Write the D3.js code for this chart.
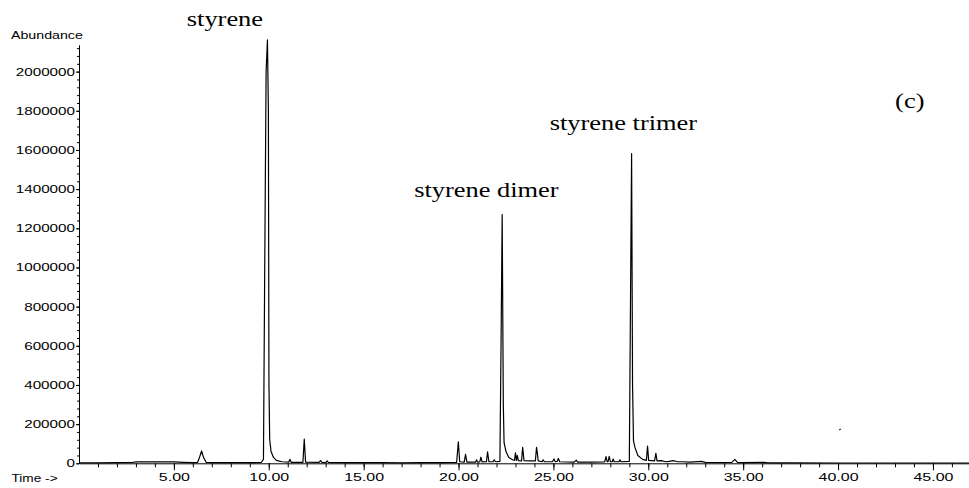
<!DOCTYPE html>
<html>
<head>
<meta charset="utf-8">
<script src="https://cdn.jsdelivr.net/npm/d3@7"></script>
<style>
  body { margin: 0; background: #fff; }
  svg { display: block; }
  .axis path, .axis line { stroke: #000; stroke-width: 1; }
  .axis text { font-family: "Liberation Sans", Arial, sans-serif; fill: #000; }
  .peak-label { font-family: "Liberation Serif", "Times New Roman", serif; fill: #000; }
</style>
</head>
<body>
<svg class="chart"></svg>
<script>
// chromatogram trace: [retention time (min), abundance]
const trace = [
    [0.0, 2000], [1.0, 2500], [2.0, 3000], [2.8, 4000], [3.0, 7000], [3.5, 8000],
    [4.0, 7000], [4.5, 8000], [5.0, 7000], [5.5, 5000], [6.0, 3500], [6.25, 5000],
    [6.35, 30000], [6.46, 63000], [6.57, 28000], [6.7, 5000], [7.0, 3000], [8.0, 3000],
    [9.0, 3500], [9.6, 4000], [9.72, 20000], [9.78, 900000], [9.86, 2000000], [9.93, 2162000],
    [9.98, 1800000], [10.01, 400000], [10.05, 120000], [10.12, 60000], [10.25, 30000],
    [10.4, 15000], [10.7, 8000], [11.05, 6000], [11.12, 20000], [11.18, 5000], [11.8, 5000],
    [11.87, 123000], [11.94, 6000], [12.65, 5000], [12.73, 14000], [12.8, 5000], [13.0, 4000],
    [13.08, 12000], [13.15, 4000], [14.0, 3000], [15.0, 3000], [16.0, 3000], [17.0, 2500],
    [18.0, 3000], [19.0, 3000], [19.9, 5000], [19.99, 110000], [20.06, 8000], [20.3, 6000],
    [20.37, 46000], [20.44, 6000], [20.9, 6000], [20.95, 18000], [21.0, 6000], [21.12, 7000],
    [21.18, 31000], [21.24, 7000], [21.47, 8000], [21.53, 59000], [21.6, 8000], [21.82, 8000],
    [21.88, 18000], [21.95, 8000], [22.18, 10000], [22.24, 600000], [22.3, 1270000],
    [22.36, 300000], [22.4, 105000], [22.5, 60000], [22.65, 30000], [22.85, 18000],
    [22.95, 15000], [23.0, 54000], [23.05, 15000], [23.1, 40000], [23.15, 14000],
    [23.32, 12000], [23.38, 82000], [23.45, 14000], [23.8, 12000], [24.05, 12000],
    [24.11, 82000], [24.15, 55000], [24.2, 12000], [24.4, 8000], [24.46, 18000], [24.52, 8000],
    [24.95, 8000], [25.03, 22000], [25.1, 8000], [25.2, 10000], [25.26, 25000], [25.33, 8000],
    [26.1, 6000], [26.2, 16000], [26.28, 6000], [27.0, 6000], [27.7, 7000], [27.77, 34000],
    [27.83, 8000], [27.88, 8000], [27.94, 36000], [28.0, 8000], [28.1, 8000], [28.15, 22000],
    [28.2, 8000], [28.45, 8000], [28.5, 18000], [28.56, 8000], [29.0, 10000], [29.06, 800000],
    [29.12, 1582000], [29.17, 400000], [29.22, 114000], [29.3, 80000], [29.45, 40000],
    [29.7, 20000], [29.9, 15000], [29.96, 88000], [30.02, 15000], [30.33, 12000],
    [30.4, 51000], [30.46, 12000], [30.7, 14000], [30.9, 8000], [31.1, 10000], [31.3, 14000],
    [31.5, 9000], [31.8, 8000], [32.2, 6000], [32.8, 10000], [33.0, 5000], [33.5, 4000],
    [34.4, 5000], [34.56, 20000], [34.7, 5000], [35.0, 3000], [36.1, 5000], [36.3, 2000],
    [37.5, 2000], [40.0, 1500], [46.9, 1500]
]

// a stray speck on the scan
const specks = [[40.1, 175000]]

// peak annotations (centre time, baseline abundance)
const labelTexts = ["styrene", "styrene dimer", "styrene trimer", "(c)"]
const labelTimes = [7.69, 21.47, 28.69, 43.78]
const labelAbund = [2233000, 1360000, 1702000, 1815000]

// ticks
const yMajorTicks = d3.range(0, 2000001, 200000)
const yMinorTicks = d3.range(0, 2136000, 40000)
const xMajorTicks = [5, 10, 15, 20, 25, 30, 35, 40, 45]
const xMinorTicks = d3.range(1, 47, 1)

const width = 969
const height = 488

const svg = d3.select("svg.chart")
    .attr("width", width)
    .attr("height", height)

const scaleX = d3.scaleLinear()
    .domain([0, 46.9])
    .range([79, 969])

const scaleY = d3.scaleLinear()
    .domain([0, 2136000])
    .range([463.3, 45])

// stretch text horizontally like the scanned original
const stretch = function(sel, factor) {
    sel.each(function() {
        const w = this.getComputedTextLength()
        d3.select(this)
            .attr("textLength", w * factor)
            .attr("lengthAdjust", "spacingAndGlyphs")
    })
}

// y axis
const axisYMinor = svg.append("g")
    .attr("class", "axis")
    .attr("transform", `translate(${scaleX(0)}, 0)`)
    .call(d3.axisLeft(scaleY).tickValues(yMinorTicks).tickSize(2).tickSizeOuter(0).tickFormat(""))

const axisYGroup = svg.append("g")
    .attr("class", "axis")
    .attr("transform", `translate(${scaleX(0)}, 0)`)
    .call(d3.axisLeft(scaleY)
        .tickValues(yMajorTicks)
        .tickSize(3)
        .tickSizeOuter(0)
        .tickPadding(1)
        .tickFormat(d3.format("d")))
axisYGroup.selectAll(".tick text").style("font-size", "10.5px")
stretch(axisYGroup.selectAll(".tick text"), 1.45)

// x axis
const axisXMinor = svg.append("g")
    .attr("class", "axis")
    .attr("transform", `translate(0, ${scaleY(0)})`)
    .call(d3.axisBottom(scaleX).tickValues(xMinorTicks).tickSize(4).tickSizeOuter(0).tickFormat(""))

const axisXGroup = svg.append("g")
    .attr("class", "axis")
    .attr("transform", `translate(0, ${scaleY(0)})`)
    .call(d3.axisBottom(scaleX)
        .tickValues(xMajorTicks)
        .tickSize(7)
        .tickSizeOuter(0)
        .tickPadding(3)
        .tickFormat(d3.format(".2f")))
axisXGroup.select(".domain").remove()
axisXGroup.selectAll(".tick text").style("font-size", "11px")
stretch(axisXGroup.selectAll(".tick text"), 1.45)

// axis titles
const yTitle = svg.append("text")
    .attr("class", "axis")
    .attr("x", 11)
    .attr("y", 38.5)
    .style("font-family", "Liberation Sans, Arial, sans-serif")
    .style("font-size", "10px")
    .text("Abundance")
stretch(yTitle, 1.42)

const xTitle = svg.append("text")
    .attr("x", 11.5)
    .attr("y", 482)
    .style("font-family", "Liberation Sans, Arial, sans-serif")
    .style("font-size", "10.5px")
    .text("Time ->")
stretch(xTitle, 1.3)

// the trace
const line = d3.line()
    .x(d => scaleX(d[0]))
    .y(d => scaleY(d[1]))

svg.append("path")
    .datum(trace)
    .attr("fill", "none")
    .attr("stroke", "#000")
    .attr("stroke-width", 1.2)
    .attr("stroke-linejoin", "round")
    .attr("d", line)

svg.selectAll("line.speck")
    .data(specks)
    .enter()
    .append("line")
    .attr("class", "speck")
    .attr("x1", d => scaleX(d[0]) - 1)
    .attr("x2", d => scaleX(d[0]) + 1)
    .attr("y1", d => scaleY(d[1]) + 1)
    .attr("y2", d => scaleY(d[1]))
    .attr("stroke", "#000")
    .attr("stroke-width", 1)

// peak labels
const peakLabels = svg.selectAll("text.peak-label")
    .data(labelTexts)
    .enter()
    .append("text")
    .attr("class", "peak-label")
    .attr("x", (d, i) => scaleX(labelTimes[i]))
    .attr("y", (d, i) => scaleY(labelAbund[i]))
    .attr("text-anchor", "middle")
    .style("font-size", "22px")
    .text(d => d)
stretch(peakLabels, 1.2)
</script>
</body>
</html>
